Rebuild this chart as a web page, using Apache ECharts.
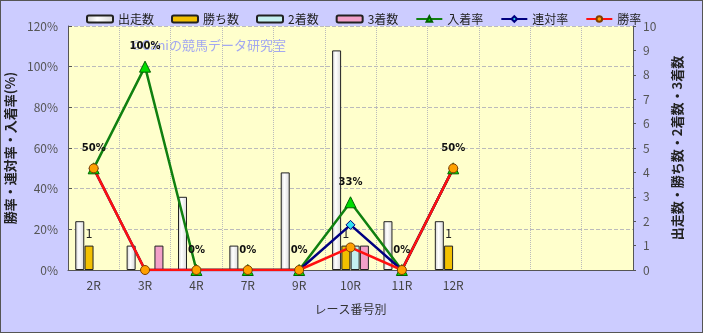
<!DOCTYPE html>
<html><head><meta charset="utf-8">
<script src="https://cdn.jsdelivr.net/npm/echarts@6/dist/echarts.min.js"></script>
<style>
html,body{margin:0;padding:0;background:#fff;}
#c{width:701px;height:331px;border:1px solid #555;background:#ccccff;}
</style></head><body>
<div id="c"></div>
<script>
const categories = ['2R','3R','4R','7R','9R','10R','11R','12R','','',''];
const starters = [2,1,3,1,4,9,2,2,null,null,null];
const wins = [1,0,0,0,0,1,0,1,null,null,null];
const seconds = [0,0,0,0,0,1,0,0,null,null,null];
const thirds = [0,1,0,0,0,1,0,0,null,null,null];
const placeRate = [50,100,0,0,0,33.3,0,50,null,null,null];
const quinellaRate = [50,0,0,0,0,22.2,0,50,null,null,null];
const winRate = [50,0,0,0,0,11.1,0,50,null,null,null];

const hideZero = arr => arr.map(v => (v === 0 ? null : v));
const chart = echarts.init(document.getElementById('c'));
const font = '"Noto Sans CJK JP", sans-serif';
const barBase = {type:'bar', yAxisIndex:1, barWidth:9, barGap:'3%'};
chart.setOption({
  animation:false,
  textStyle:{fontFamily:font},
  legend:{
    top:7, left:80, itemGap:17, itemWidth:26, itemHeight:7,
    textStyle:{fontSize:12, color:'#222', fontFamily:font},
    data:['出走数','勝ち数','2着数','3着数','入着率','連対率','勝率']
  },
  graphic:[{type:'text', left:130, top:38, style:{text:'©Caniの競馬データ研究室', fill:'#a3a8f0', font:'13px "Noto Sans CJK JP", sans-serif'}}],
  grid:{left:67, right:69, top:25, bottom:62, show:true, backgroundColor:'#ffffcc', borderWidth:0, containLabel:false, outerBoundsMode:'none'},
  xAxis:{
    type:'category', data:categories,
    axisLine:{show:true, lineStyle:{color:'#555'}}, axisTick:{show:false},
    axisLabel:{color:'#444', fontSize:12, margin:9},
    splitLine:{show:true, lineStyle:{color:'#bbb', type:'dotted'}},
    name:'レース番号別', nameLocation:'middle', nameGap:33,
    nameTextStyle:{color:'#333', fontSize:12}
  },
  yAxis:[{
    type:'value', min:0, max:120, interval:20,
    axisLabel:{formatter:'{value}%', color:'#555', fontSize:12, margin:10},
    axisLine:{show:true, lineStyle:{color:'#555'}}, axisTick:{show:true, length:4, inside:true},
    splitLine:{lineStyle:{color:'#bbb', type:'dashed'}},
    name:'勝率・連対率・入着率(%)', nameLocation:'middle', nameRotate:90, nameGap:44,
    nameTextStyle:{color:'#222', fontSize:13, fontWeight:'bold'}
  },{
    type:'value', min:0, max:10, interval:1,
    axisLabel:{color:'#555', fontSize:12, margin:10},
    axisLine:{show:true, lineStyle:{color:'#555'}}, axisTick:{show:true, length:3, inside:false}, splitLine:{show:false},
    name:'出走数・勝ち数・2着数・3着数', nameLocation:'middle', nameRotate:90, nameGap:38,
    nameTextStyle:{color:'#222', fontSize:13, fontWeight:'bold'}
  }],
  series:[
    Object.assign({}, barBase, {name:'出走数', data:hideZero(starters),
      itemStyle:{borderColor:'#222', borderWidth:1, color:new echarts.graphic.LinearGradient(0,0,1,0,[{offset:0,color:'#cfcfcf'},{offset:0.4,color:'#ffffff'},{offset:1,color:'#d8d8d8'}])}}),
    Object.assign({}, barBase, {name:'勝ち数', data:hideZero(wins),
      itemStyle:{borderColor:'#222', borderWidth:1, color:'#f2c000'},
      label:{show:true, position:'top', distance:6, color:'#222', fontSize:12, formatter:p=>p.value>0?p.value:''}}),
    Object.assign({}, barBase, {name:'2着数', data:hideZero(seconds),
      itemStyle:{borderColor:'#222', borderWidth:1, color:'#c4f0f0'}}),
    Object.assign({}, barBase, {name:'3着数', data:hideZero(thirds),
      itemStyle:{borderColor:'#222', borderWidth:1, color:'#f2a0c8'}}),
    {name:'入着率', type:'line', yAxisIndex:0, data:placeRate, symbol:'triangle', symbolSize:11,
      lineStyle:{color:'#108010', width:2.5}, itemStyle:{color:'#00dd00', borderColor:'#006000', borderWidth:1},
      label:{show:true, position:'top', distance:9, color:'#111', fontSize:10, fontWeight:'bold', fontFamily:'"DejaVu Sans", sans-serif', formatter:p=>Math.round(p.value)+'%'}},
    {name:'連対率', type:'line', yAxisIndex:0, data:quinellaRate, symbol:'diamond', symbolSize:9,
      lineStyle:{color:'#000080', width:2.5}, itemStyle:{color:'#30e0f0', borderColor:'#000080', borderWidth:1}},
    {name:'勝率', type:'line', yAxisIndex:0, data:winRate, symbol:'circle', symbolSize:9,
      lineStyle:{color:'#ff1010', width:2.5}, itemStyle:{color:'#ffa000', borderColor:'#804000', borderWidth:1}}
  ]
});
</script></body></html>
